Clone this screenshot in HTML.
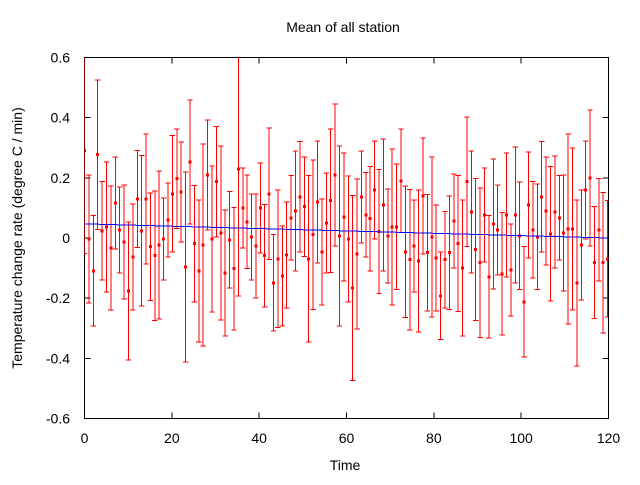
<!DOCTYPE html>
<html><head><meta charset="utf-8"><style>
body{margin:0;background:#fff}
svg text{font-family:"Liberation Sans",sans-serif;font-size:14px;fill:#000}
svg line, svg path, svg rect{shape-rendering:crispEdges}
</style></head><body>
<svg id="chart" width="640" height="480" viewBox="0 0 640 480" xmlns="http://www.w3.org/2000/svg">
<text x="343" y="32" text-anchor="middle">Mean of all station</text>
<text x="345" y="470" text-anchor="middle">Time</text>
<text transform="translate(22,238) rotate(-90)" text-anchor="middle">Temperature change rate (degree C / min)</text>
<g id="axes"></g>
<g id="plot"></g>
</svg>
<script>
const xTicks=[0,20,40,60,80,100,120];
const yTicks=[-0.6,-0.4,-0.2,0,0.2,0.4,0.6];
const yTickLabels=["-0.6","-0.4","-0.2","0","0.2","0.4","0.6"];
const means=[0.291,-0.003,-0.109,0.277,0.024,0.037,-0.033,0.117,0.027,-0.013,-0.176,-0.063,0.130,0.024,0.129,-0.029,-0.059,-0.023,-0.003,0.060,0.147,0.197,0.153,-0.096,0.253,-0.019,-0.109,-0.023,0.210,-0.003,
0.187,0.017,-0.116,-0.006,-0.102,0.230,0.100,0.054,0.004,-0.026,0.100,-0.059,0.147,-0.149,-0.069,-0.126,-0.056,0.067,0.090,0.137,0.104,-0.069,0.011,0.120,-0.046,0.050,0.124,0.210,0.007,0.070,
-0.003,-0.166,-0.053,0.137,0.077,0.064,0.160,0.021,0.110,0.007,0.037,0.037,0.190,-0.046,-0.072,-0.026,-0.076,0.140,-0.049,0.004,-0.066,-0.192,-0.072,-0.049,0.057,-0.019,-0.099,0.187,0.087,
-0.039,-0.082,0.077,-0.129,0.047,0.027,-0.119,0.077,-0.106,0.077,0.007,-0.212,0.110,0.027,0.004,0.137,0.090,0.014,0.087,0.067,0.017,0.030,0.030,-0.149,-0.023,0.160,0.200,-0.082,0.027,-0.082,-0.069];
const errs=[0.342,0.213,0.183,0.249,0.163,0.216,0.206,0.153,0.143,0.189,0.229,0.176,0.161,0.250,0.216,0.179,0.216,0.246,0.136,0.123,0.193,0.166,0.166,0.316,0.206,0.193,0.236,0.336,0.183,0.243,
0.183,0.289,0.209,0.160,0.203,0.422,0.133,0.156,0.143,0.173,0.150,0.170,0.219,0.160,0.229,0.166,0.176,0.140,0.199,0.183,0.166,0.276,0.249,0.203,0.176,0.166,0.239,0.236,0.299,0.213,
0.209,0.308,0.249,0.153,0.140,0.173,0.163,0.206,0.219,0.156,0.259,0.209,0.172,0.219,0.233,0.153,0.236,0.193,0.193,0.266,0.176,0.146,0.160,0.189,0.156,0.226,0.226,0.216,0.203,
0.236,0.249,0.156,0.203,0.216,0.150,0.203,0.206,0.153,0.226,0.179,0.183,0.176,0.160,0.176,0.183,0.179,0.223,0.186,0.140,0.193,0.316,0.269,0.276,0.183,0.163,0.226,0.186,0.170,0.233,0.193];
const trendStart=0.047, trendEnd=0.0;
const L=84.5,R=608.5,T=57.5,B=418.5;
const xs=v=>L+(v/120)*(R-L);
const ys=v=>B-((v+0.6)/1.2)*(B-T);
const NS="http://www.w3.org/2000/svg";
function mk(tag,attrs,parent){const e=document.createElementNS(NS,tag);for(const k in attrs)e.setAttribute(k,attrs[k]);parent.appendChild(e);return e;}
const axes=document.getElementById('axes'),plot=document.getElementById('plot');
xTicks.forEach((t,i)=>{
 const x=xs(t);
 const a=mk('line',{x1:x,x2:x,y1:B,y2:B-6,stroke:'#000'},axes);
 
 
 const b=mk('line',{x1:x,x2:x,y1:T,y2:T+6,stroke:'#000'},axes);
 
 
 const tx=mk('text',{x:x,y:443,'text-anchor':'middle'},axes);tx.textContent=String(t);
 
 
});
yTicks.forEach((t,i)=>{
 const y=ys(t);
 const a=mk('line',{x1:L,x2:L+6,y1:y,y2:y,stroke:'#000'},axes);
 
 
 const b=mk('line',{x1:R,x2:R-6,y1:y,y2:y,stroke:'#000'},axes);
 
 
 const tx=mk('text',{x:70,y:y+5,'text-anchor':'end'},axes);tx.textContent=yTickLabels[i];
 
 
});
const frame=mk('rect',{x:L,y:T,width:R-L,height:B-T,fill:'none',stroke:'#000'},axes);


const step=119.8/119;
const cp=mk('clipPath',{id:'clip'},plot);
mk('rect',{x:L,y:T,width:R-L,height:B-T},cp);
const g=mk('g',{'clip-path':'url(#clip)'},plot);
means.forEach((m,i)=>{
 const x=xs(i*step),yc=ys(m),y1=ys(m+errs[i]),y2=ys(m-errs[i]);
 const eb=mk('path',{d:`M${x},${y1}V${y2}M${x-2.7},${y1}H${x+2.7}M${x-2.7},${y2}H${x+2.7}`,stroke:'#f00','stroke-width':1,fill:'none'},g);
 
 
 const p=mk('rect',{x:x-1.5,y:yc-1.5,width:3,height:3,fill:'#f00'},g);
 
 
});
const tl=mk('line',{x1:xs(0),y1:ys(trendStart),x2:xs(120),y2:ys(trendEnd),stroke:'#00f','stroke-width':1},g);


</script>
</body></html>
